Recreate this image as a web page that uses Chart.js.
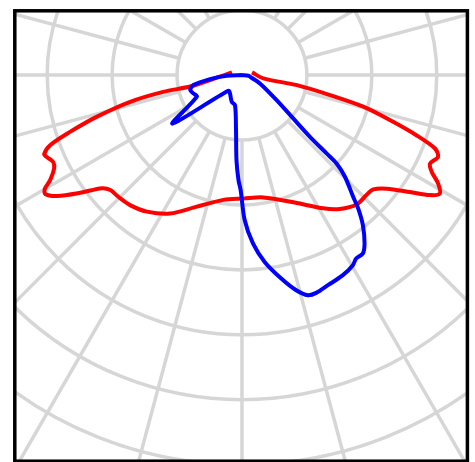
<!DOCTYPE html>
<html>
<head>
<meta charset="utf-8">
<script src="https://cdn.jsdelivr.net/npm/chart.js@4.4.0/dist/chart.umd.min.js"></script>
<style>
    html, body { margin: 0; padding: 0; background: #ffffff; }
    #wrap { width: 475px; height: 462px; }
</style>
</head>
<body>
<div id="wrap"><canvas id="polarChart" width="475" height="462"></canvas></div>
<script>
// --- Grid: rings (intensity) and spokes (gamma, degrees from nadir) ---
const ringValues = [100, 200, 300, 400, 500, 600, 700];
const spokeAngles = [0, 15, 30, 45, 60, 75, 90, 105, 120, 135, 150, 165,
                     180, 195, 210, 225, 240, 255, 270, 285, 300, 315, 330, 345];

// --- C0-C180 plane (red) ---
const redAngles = [-105, -77.7, -78, -76.6, -74, -71.75, -70, -68.25, -67.3, -65.3, -63.6, -61.3,
                   -60.1, -58.9, -56.85, -54, -51.1, -48.9, -45.5, -40.75, -34.9, -27.5, -19, -8.5,
                   0.6, 9.9, 23.2, 31.4, 36.2, 41.6, 46.1, 49, 51.9, 55.2, 57.45, 59.1,
                   61.1, 63, 64.8, 67.4, 69.2, 71, 73.1, 75.4, 77.2, 79.6, 81.2, 105];
const redValues = [16, 77, 124, 177, 233, 279, 314, 328, 326, 320, 323, 337,
                   350, 354, 340, 308, 277, 269, 267, 264, 256, 240, 214, 194,
                   190, 191, 214, 240, 255, 266, 266, 268, 283, 315, 343, 355,
                   345, 328, 320, 327, 318, 284, 238, 193, 139, 86, 33, 16];

// --- C90-C270 plane (blue) ---
const blueAngles = [180, -87.4, -82.9, -78.4, -73.9, -69.4, -64.4, -55.1, -41.1, -33.3, -21.1, -13.1,
                    -6.2, -3.7, -1.9, -0.65, 1.07, 3.74, 6.93, 10.94, 14.17, 16.7, 18.84, 22.27,
                    26.79, 30.29, 31.95, 34.16, 36.1, 38.9, 41.1, 42.45, 45.4, 47, 47.25, 47.8,
                    49.8, 54.2, 65.2, 73.7, 84, 180];
const blueValues = [0, 23.5, 49.5, 76.5, 83, 80, 77, 130.5, 32, 33.7, 44, 47.4,
                    85, 131, 161.6, 177, 223, 259.5, 289.4, 318.6, 341.2, 353.4, 353.9, 349.1,
                    344.7, 338.5, 332.3, 331.5, 320.4, 296.5, 272.2, 253.7, 222.7, 199.2, 177.4, 141.3,
                    103.3, 65.8, 30.5, 16, 10, 0];

// polar (gamma, intensity) -> x/y values for the linear scales
function toXY(angles, values) {
    return angles.map((g, i) => ({
        x: values[i] * Math.sin(g * Math.PI / 180),
        y: -values[i] * Math.cos(g * Math.PI / 180)
    }));
}

const polarGrid = {
    id: 'polarGrid',
    beforeDatasetsDraw(chart) {
        const { ctx, chartArea, scales: { x, y } } = chart;
        const cx = x.getPixelForValue(0);
        const cy = y.getPixelForValue(0);
        ctx.save();
        ctx.beginPath();
        ctx.rect(chartArea.left, chartArea.top, chartArea.right - chartArea.left, chartArea.bottom - chartArea.top);
        ctx.clip();
        ctx.strokeStyle = '#d6d6d6';
        ctx.lineWidth = 3.5;
        ringValues.forEach(v => {
            ctx.beginPath();
            ctx.arc(cx, cy, x.getPixelForValue(v) - cx, 0, Math.PI * 2);
            ctx.stroke();
        });
        const rIn = ringValues[0];
        const rOut = ringValues[ringValues.length - 1];
        spokeAngles.forEach(a => {
            const s = Math.sin(a * Math.PI / 180), c = Math.cos(a * Math.PI / 180);
            ctx.beginPath();
            ctx.moveTo(x.getPixelForValue(rIn * s), y.getPixelForValue(-rIn * c));
            ctx.lineTo(x.getPixelForValue(rOut * s), y.getPixelForValue(-rOut * c));
            ctx.stroke();
        });
        ctx.restore();
    }
};

const frameBox = {
    id: 'frameBox',
    afterDraw(chart) {
        const ctx = chart.ctx;
        ctx.save();
        ctx.strokeStyle = '#000000';
        ctx.lineWidth = 3.5;
        ctx.strokeRect(14.8, 10.8, 452.6, 450.4);
        ctx.restore();
    }
};

new Chart(document.getElementById('polarChart').getContext('2d'), {
    type: 'scatter',
    data: {
        datasets: [{
            label: 'C90-C270',
            data: toXY(blueAngles, blueValues),
            borderColor: '#0000ff',
            borderWidth: 4,
            showLine: true,
            pointRadius: 0,
            tension: 0.3,
            fill: false
        }, {
            label: 'C0-C180',
            data: toXY(redAngles, redValues),
            borderColor: '#ff0000',
            borderWidth: 4,
            showLine: true,
            pointRadius: 0,
            tension: 0.3,
            fill: false
        }]
    },
    options: {
        responsive: false,
        animation: false,
        layout: { padding: { left: 16, right: 9, top: 12, bottom: 0 } },
        plugins: {
            legend: { display: false },
            tooltip: { enabled: false }
        },
        scales: {
            x: { type: 'linear', min: -348, max: 345, display: false },
            y: { type: 'linear', min: -595, max: 97, display: false }
        }
    },
    plugins: [polarGrid, frameBox]
});
</script>
</body>
</html>
